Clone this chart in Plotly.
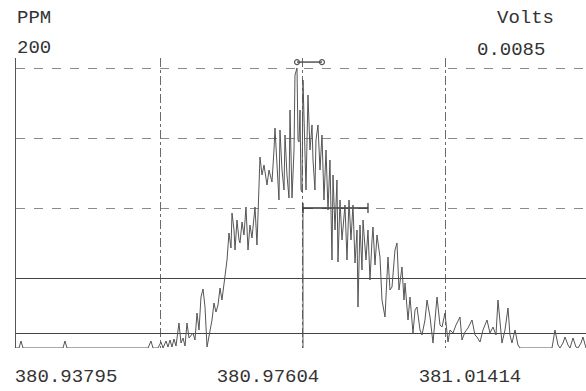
import plotly.graph_objects as go

# ---- data (m/z vs detector volts) ----
mz = [380.92852, 380.92909, 380.92946, 380.92984, 380.93738, 380.93776, 380.93814,
      380.95342, 380.95398, 380.95436, 380.95530, 380.95587, 380.95625, 380.95681,
      380.95719, 380.95757, 380.95794, 380.95832, 380.95870, 380.95926, 380.95964,
      380.96002, 380.96040, 380.96077, 380.96115, 380.96153, 380.96190, 380.96228,
      380.96266, 380.96304, 380.96341, 380.96379, 380.96417, 380.96455, 380.96511,
      380.96549, 380.96586, 380.96624, 380.96662, 380.96700, 380.96737, 380.96794,
      380.96832, 380.96869, 380.96907, 380.96926, 380.96964, 380.96983, 380.97020,
      380.97058, 380.97077, 380.97115, 380.97152, 380.97190, 380.97228, 380.97265,
      380.97303, 380.97360, 380.97397, 380.97454, 380.97492, 380.97530, 380.97567,
      380.97586, 380.97624, 380.97643, 380.97680, 380.97718, 380.97737, 380.97775,
      380.97812, 380.97831, 380.97869, 380.97907, 380.97926, 380.97963, 380.98001,
      380.98020, 380.98058, 380.98096, 380.98114, 380.98152, 380.98171, 380.98190,
      380.98209, 380.98228, 380.98246, 380.98265, 380.98303, 380.98322, 380.98359,
      380.98397, 380.98435, 380.98454, 380.98491, 380.98510, 380.98548, 380.98586,
      380.98623, 380.98661, 380.98699, 380.98737, 380.98774, 380.98812, 380.98831,
      380.98869, 380.98906, 380.98925, 380.98963, 380.99001, 380.99057, 380.99095,
      380.99133, 380.99170, 380.99208, 380.99246, 380.99284, 380.99302, 380.99340,
      380.99378, 380.99397, 380.99453, 380.99491, 380.99529, 380.99567, 380.99585,
      380.99623, 380.99661, 380.99717, 380.99755, 380.99812, 380.99850, 380.99868,
      380.99906, 380.99944, 381.00000, 381.00038, 381.00076, 381.00132, 381.00170,
      381.00189, 381.00246, 381.00283, 381.00340, 381.00378, 381.00415, 381.00472,
      381.00510, 381.00566, 381.00604, 381.00661, 381.00717, 381.00755, 381.00793,
      381.00849, 381.00887, 381.00943, 381.01000, 381.01038, 381.01094, 381.01151,
      381.01226, 381.01264, 381.01321, 381.01377, 381.01453, 381.01509, 381.01547,
      381.01604, 381.01660, 381.01736, 381.01792, 381.01849, 381.01905, 381.01943,
      381.01981, 381.02018, 381.02075, 381.02132, 381.02169, 381.02207, 381.02264,
      381.02320, 381.02358, 381.02962, 381.03018, 381.03075, 381.03112, 381.03169,
      381.03207, 381.03263, 381.03301, 381.03358, 381.03414, 381.03452, 381.03509,
      381.03546, 381.03603]

signal_mV = [0, 0, 0.212, 0, 0, 0.212, 0,
             0, 0.212, 0, 0, 0.182, 0, 0.212,
             0.030, 0.243, 0.030, 0.273, 0.061, 0.759, 0.152,
             0.304, 0.061, 0.759, 0.304, 0.395, 0.455, 0.243,
             1.062, 0.546, 1.548, 1.791, 1.245, 0.030, 0.455,
             0.850, 1.366, 1.093, 1.305, 1.821, 1.457, 2.095,
             2.671, 3.491, 3.036, 4.098, 3.582, 2.975, 3.886,
             3.279, 3.188, 3.825, 3.430, 4.280, 2.975, 3.734,
             3.339, 4.280, 3.127, 5.798, 5.252, 5.555, 5.100,
             4.948, 5.404, 5.252, 5.039, 6.011, 6.679, 5.555,
             4.493, 6.618, 5.404, 4.796, 6.466, 5.252, 4.554,
             7.225, 4.554, 6.011, 8.287, 8.500, 6.314, 6.254,
             7.225, 4.796, 4.736, 8.136, 6.011, 4.796, 7.680,
             6.011, 6.770, 5.707, 4.796, 6.314, 6.770, 5.404,
             6.466, 4.493, 6.011, 4.189, 5.707, 2.671, 5.252,
             3.582, 5.100, 2.611, 4.493, 3.279, 4.341, 2.671,
             4.493, 3.279, 4.341, 2.580, 3.582, 1.245, 3.734,
             2.368, 3.886, 2.671, 3.582, 2.064, 3.279, 3.673,
             2.520, 3.430, 2.762, 1.457, 0.941, 2.368, 2.762,
             1.761, 1.852, 2.975, 3.188, 1.761, 2.459, 1.457,
             1.973, 0.850, 1.548, 0.455, 1.154, 1.245, 0.546,
             0.395, 0.850, 1.457, 0.941, 0.152, 0.850, 1.548,
             0.698, 0.637, 1.062, 0.182, 0.546, 0.455, 0.698,
             0.941, 0.243, 0.486, 0.607, 0.850, 0.395, 0.334,
             0.182, 0.546, 0.850, 0.455, 0.637, 0.395, 1.457,
             0.850, 0.152, 0.546, 1.214, 0.395, 0.152, 0.546,
             0.091, 0, 0, 0.546, 0.091, 0, 0.152,
             0.334, 0.091, 0, 0.304, 0.030, 0, 0.152,
             0.334, 0]

# axis / scale values
mz_range = [380.92852, 381.03603]
volts_full_scale = 0.0085
volts_axis_top = 0.0088036
label_mz = [380.93795, 380.97604, 381.01414]
label_text = ["380.93795", "380.97604", "381.01414"]
grid_mz = [380.95568, 380.98265, 381.00962]
grid_volts_dashed = [0.00425, 0.006375, 0.0085]
grid_volts_solid = [0.000455, 0.002125]

# peak markers
width_bar_mz = [380.98152, 380.98623]
width_bar_v = [0.00868, 0.00868]
half_height_mz = [380.98265, 380.99491]
half_height_v = [0.00425, 0.00425]
centroid_mz = [380.98265, 380.98265]
centroid_v = [0.0, 0.00425]

signal_v = [v / 1000 for v in signal_mV]

ink = "#333333"
mono = "Liberation Mono, Courier New, monospace"

fig = go.Figure()

# invisible trace so the overlay axes exist
fig.add_trace(go.Scatter(x=mz_range, y=[0, volts_full_scale], xaxis="x2", yaxis="y2",
                         mode="markers", marker=dict(opacity=0), hoverinfo="skip",
                         showlegend=False))

fig.add_trace(go.Scatter(x=centroid_mz, y=centroid_v, mode="lines",
                         line=dict(color="#555", width=1), showlegend=False))
fig.add_trace(go.Scatter(x=half_height_mz, y=half_height_v, mode="lines+markers",
                         line=dict(color="#333", width=1.5),
                         marker=dict(symbol="line-ns-open", size=7, color="#333",
                                     line=dict(width=1.2, color="#333")),
                         showlegend=False))
fig.add_trace(go.Scatter(x=mz, y=signal_v, mode="lines",
                         line=dict(color="#555", width=1), showlegend=False))
fig.add_trace(go.Scatter(x=width_bar_mz, y=width_bar_v, mode="lines+markers",
                         line=dict(color="#555", width=1.5),
                         marker=dict(symbol="circle-open", size=5, color="#555",
                                     line=dict(width=1.2, color="#555")),
                         cliponaxis=False, showlegend=False))

fig.update_layout(
    width=586, height=391,
    margin=dict(l=16, r=0, t=58, b=43),
    paper_bgcolor="white", plot_bgcolor="white",
    font=dict(family=mono, size=19, color=ink),
    xaxis=dict(range=mz_range, tickmode="array", tickvals=label_mz, ticktext=label_text,
               showgrid=False, zeroline=False, showline=False, ticks="",
               ticklabelstandoff=14, tickfont=dict(family=mono, size=19, color=ink)),
    xaxis2=dict(range=mz_range, overlaying="x", anchor="y", side="bottom",
                tickmode="array", tickvals=grid_mz, showticklabels=False,
                showgrid=True, griddash="dashdot", gridcolor="#6a6a6a", gridwidth=1,
                zeroline=False, showline=False, ticks=""),
    yaxis=dict(range=[0, volts_axis_top], tickmode="array", tickvals=grid_volts_dashed,
               showticklabels=False, showgrid=True, griddash="dash", gridcolor="#8a8a8a",
               gridwidth=1, zeroline=False, showline=True, linecolor="#555", linewidth=1,
               ticks=""),
    yaxis2=dict(range=[0, volts_axis_top], overlaying="y", anchor="x", side="right",
                tickmode="array", tickvals=grid_volts_solid, showticklabels=False,
                showgrid=True, gridcolor="#444", gridwidth=1, zeroline=False,
                showline=False, ticks=""),
    annotations=[
        dict(text="PPM", xref="paper", yref="paper", x=-0.002, y=1.138,
             xanchor="left", yanchor="middle", showarrow=False),
        dict(text="200", xref="paper", yref="paper", x=-0.002, y=1.034,
             xanchor="left", yanchor="middle", showarrow=False),
        dict(text="Volts", xref="paper", yref="paper", x=0.947, y=1.139,
             xanchor="right", yanchor="middle", showarrow=False),
        dict(text="0.0085", xref="paper", yref="paper", x=0.932, y=1.028,
             xanchor="right", yanchor="middle", showarrow=False),
    ],
)

fig.write_html("out.html", config={"displayModeBar": False},
               post_script="document.body.style.margin='0';document.body.style.overflow='hidden';")
